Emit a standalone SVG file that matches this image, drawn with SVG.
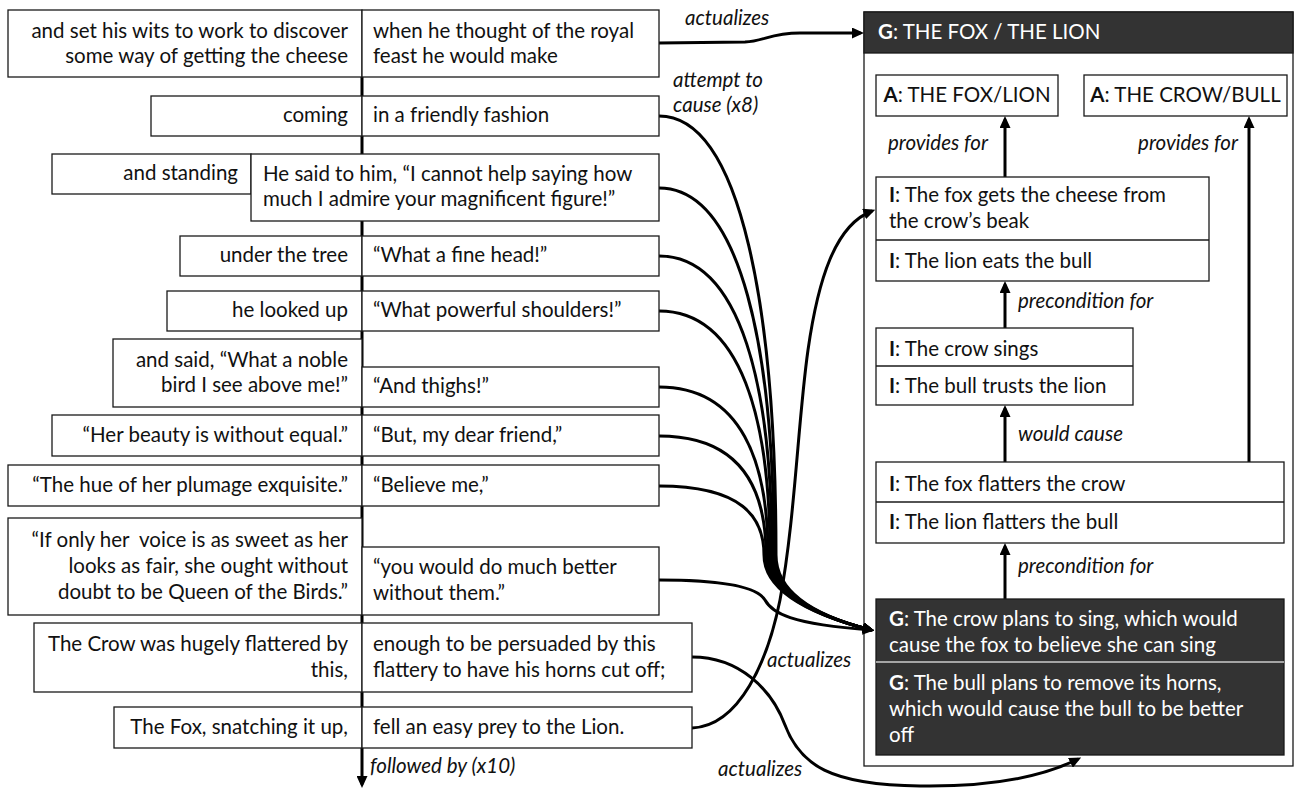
<svg xmlns="http://www.w3.org/2000/svg" width="1295" height="789" viewBox="0 0 1295 789">
<style>
.bx{fill:#fff;stroke:#1a1a1a;stroke-width:1.3}
.dk{fill:#333;stroke:#1a1a1a;stroke-width:1.3}
.t{font-family:Lato,"Liberation Sans",sans-serif;font-size:20.5px;fill:#111}
.i{font-style:italic}
.e{text-anchor:end}
.m{text-anchor:middle}
.w{fill:#fff}
.b{font-weight:bold}
.c{fill:none;stroke:#000;stroke-width:3}
</style>
<defs>
<marker id="ah" markerUnits="userSpaceOnUse" markerWidth="12" markerHeight="11" viewBox="0 0 12 11" refX="8.5" refY="5.5" orient="auto">
<path d="M0,0 L12,5.5 L0,11 z" fill="#000"/>
</marker>
</defs>
<rect width="1295" height="789" fill="#fff"/>

<g id="panel">
<rect class="bx" x="864" y="12" width="429" height="754"/>
<rect class="dk" x="864" y="12" width="429" height="41"/>
<text class="t w" x="878" y="39"><tspan class="b">G</tspan>: THE FOX / THE LION</text>
</g>

<g id="connectors">
<line class="c" x1="362" y1="77" x2="362" y2="784.5" marker-end="url(#ah)"/>
<path class="c" d="M659,43 L745,42 C765,41 770,33 800,33 L860.5,33" marker-end="url(#ah)"/>
<path class="c" d="M659,116 C742,116 776,314 776,555 C776,595 820,617 871,630" marker-end="url(#ah)"/>
<path class="c" d="M659,188 C742,188 774,353 774,555 C774,595 820,617 871,630" marker-end="url(#ah)"/>
<path class="c" d="M659,256 C742,256 772,390 772,555 C772,595 820,617 871,630" marker-end="url(#ah)"/>
<path class="c" d="M659,311 C742,311 770,421 770,555 C770,595 820,617 871,630" marker-end="url(#ah)"/>
<path class="c" d="M659,387 C742,387 768,463 768,555 C768,595 820,617 871,630" marker-end="url(#ah)"/>
<path class="c" d="M659,436 C742,436 766,490 766,555 C766,595 820,617 871,630" marker-end="url(#ah)"/>
<path class="c" d="M659,486 C742,486 764,517 764,555 C764,595 820,617 871,630" marker-end="url(#ah)"/>
<path class="c" d="M659,580 C730,580 758,588 765,600 C772,613 790,624 871,630" marker-end="url(#ah)"/>
<path class="c" d="M692,728 C740,726 768,660 780,600 C795,520 798,420 808,350 C818,280 835,225 872,211" marker-end="url(#ah)"/>
<path class="c" d="M692,657 C740,657 772,690 785,725 C800,765 830,785 920,786 C990,787 1040,778 1078,759" marker-end="url(#ah)"/>
<line class="c" x1="1005" y1="177" x2="1005" y2="119.5" marker-end="url(#ah)"/>
<line class="c" x1="1249" y1="462" x2="1249" y2="119.5" marker-end="url(#ah)"/>
<line class="c" x1="1005" y1="328" x2="1005" y2="284.5" marker-end="url(#ah)"/>
<line class="c" x1="1005" y1="462" x2="1005" y2="408.5" marker-end="url(#ah)"/>
<line class="c" x1="1005" y1="599" x2="1005" y2="546.5" marker-end="url(#ah)"/>
<text class="t i" x="685" y="25">actualizes</text>
<text class="t i" x="673" y="87">attempt to</text>
<text class="t i" x="673" y="112">cause (x8)</text>
<text class="t i" x="767" y="667">actualizes</text>
<text class="t i" x="718" y="776">actualizes</text>
<text class="t i" x="370" y="773">followed by (x10)</text>
<text class="t i" x="888" y="150">provides for</text>
<text class="t i e" x="1238" y="150">provides for</text>
<text class="t i" x="1018" y="308">precondition for</text>
<text class="t i" x="1018" y="441">would cause</text>
<text class="t i" x="1018" y="573">precondition for</text>
</g>

<g id="row1">
<rect class="bx" x="8" y="10" width="354" height="67"/>
<rect class="bx" x="362" y="10" width="297" height="67"/>
<text class="t e" x="348" y="38">and set his wits to work to discover</text>
<text class="t e" x="348" y="63">some way of getting the cheese</text>
<text class="t" x="373" y="38">when he thought of the royal</text>
<text class="t" x="373" y="63">feast he would make</text>
</g>
<g id="row2">
<rect class="bx" x="151" y="96" width="211" height="40"/>
<rect class="bx" x="362" y="96" width="297" height="40"/>
<text class="t e" x="348" y="122">coming</text>
<text class="t" x="373" y="122">in a friendly fashion</text>
</g>
<g id="row3">
<rect class="bx" x="52" y="154" width="199" height="40"/>
<rect class="bx" x="251" y="154" width="408" height="67"/>
<text class="t e" x="238" y="180">and standing</text>
<text class="t" x="263" y="181">He said to him, “I cannot help saying how</text>
<text class="t" x="263" y="206">much I admire your magnificent figure!”</text>
</g>
<g id="row4">
<rect class="bx" x="180" y="236" width="182" height="40"/>
<rect class="bx" x="362" y="236" width="297" height="40"/>
<text class="t e" x="348" y="262">under the tree</text>
<text class="t" x="373" y="262">“What a fine head!”</text>
</g>
<g id="row5">
<rect class="bx" x="167" y="291" width="195" height="40"/>
<rect class="bx" x="362" y="291" width="297" height="40"/>
<text class="t e" x="348" y="317">he looked up</text>
<text class="t" x="373" y="317">“What powerful shoulders!”</text>
</g>
<g id="row6">
<rect class="bx" x="113" y="339" width="249" height="68"/>
<rect class="bx" x="362" y="367" width="297" height="40"/>
<text class="t e" x="348" y="367">and said, “What a noble</text>
<text class="t e" x="348" y="392">bird I see above me!”</text>
<text class="t" x="373" y="393">“And thighs!”</text>
</g>
<g id="row7">
<rect class="bx" x="52" y="415" width="310" height="41"/>
<rect class="bx" x="362" y="415" width="297" height="41"/>
<text class="t e" x="348" y="442">“Her beauty is without equal.”</text>
<text class="t" x="373" y="442">“But, my dear friend,”</text>
</g>
<g id="row8">
<rect class="bx" x="8" y="465" width="354" height="41"/>
<rect class="bx" x="362" y="465" width="297" height="41"/>
<text class="t e" x="348" y="492">“The hue of her plumage exquisite.”</text>
<text class="t" x="373" y="492">“Believe me,”</text>
</g>
<g id="row9">
<rect class="bx" x="8" y="518" width="354" height="97"/>
<rect class="bx" x="362" y="547" width="297" height="68"/>
<text class="t e" x="348" y="547" style="white-space:pre">“If only her  voice is as sweet as her</text>
<text class="t e" x="348" y="573">looks as fair, she ought without</text>
<text class="t e" x="348" y="599">doubt to be Queen of the Birds.”</text>
<text class="t" x="373" y="574">“you would do much better</text>
<text class="t" x="373" y="600">without them.”</text>
</g>
<g id="row10">
<rect class="bx" x="34" y="623" width="328" height="69"/>
<rect class="bx" x="362" y="623" width="330" height="69"/>
<text class="t e" x="348" y="651">The Crow was hugely flattered by</text>
<text class="t e" x="348" y="677">this,</text>
<text class="t" x="373" y="651">enough to be persuaded by this</text>
<text class="t" x="373" y="677">flattery to have his horns cut off;</text>
</g>
<g id="row11">
<rect class="bx" x="114" y="707" width="248" height="41"/>
<rect class="bx" x="362" y="707" width="330" height="41"/>
<text class="t e" x="348" y="734">The Fox, snatching it up,</text>
<text class="t" x="373" y="734">fell an easy prey to the Lion.</text>
</g>

<g id="agent-fox">
<rect class="bx" x="876" y="75" width="182" height="41"/>
<text class="t m" x="967" y="102"><tspan class="b">A</tspan>: THE FOX/LION</text>
</g>
<g id="agent-crow">
<rect class="bx" x="1084" y="75" width="203" height="41"/>
<text class="t m" x="1185.5" y="102"><tspan class="b">A</tspan>: THE CROW/BULL</text>
</g>
<g id="i-gets">
<rect class="bx" x="876" y="177" width="333" height="104"/>
<line x1="876" y1="240" x2="1209" y2="240" stroke="#1a1a1a" stroke-width="1.3"/>
<text class="t" x="889" y="202"><tspan class="b">I</tspan>: The fox gets the cheese from</text>
<text class="t" x="889" y="228">the crow’s beak</text>
<text class="t" x="889" y="268"><tspan class="b">I</tspan>: The lion eats the bull</text>
</g>
<g id="i-sings">
<rect class="bx" x="876" y="328" width="257" height="77"/>
<line x1="876" y1="366" x2="1133" y2="366" stroke="#1a1a1a" stroke-width="1.3"/>
<text class="t" x="889" y="356"><tspan class="b">I</tspan>: The crow sings</text>
<text class="t" x="889" y="393"><tspan class="b">I</tspan>: The bull trusts the lion</text>
</g>
<g id="i-flatters">
<rect class="bx" x="876" y="462" width="408" height="81"/>
<line x1="876" y1="502" x2="1284" y2="502" stroke="#1a1a1a" stroke-width="1.3"/>
<text class="t" x="889" y="491"><tspan class="b">I</tspan>: The fox flatters the crow</text>
<text class="t" x="889" y="529"><tspan class="b">I</tspan>: The lion flatters the bull</text>
</g>
<g id="g-plans">
<rect class="dk" x="876" y="599" width="408" height="156"/>
<line x1="876" y1="662" x2="1284" y2="662" stroke="#ccc" stroke-width="1.5"/>
<text class="t w" x="889" y="626"><tspan class="b">G</tspan>: The crow plans to sing, which would</text>
<text class="t w" x="889" y="652">cause the fox to believe she can sing</text>
<text class="t w" x="889" y="690"><tspan class="b">G</tspan>: The bull plans to remove its horns,</text>
<text class="t w" x="889" y="716">which would cause the bull to be better</text>
<text class="t w" x="889" y="742">off</text>
</g>
</svg>
